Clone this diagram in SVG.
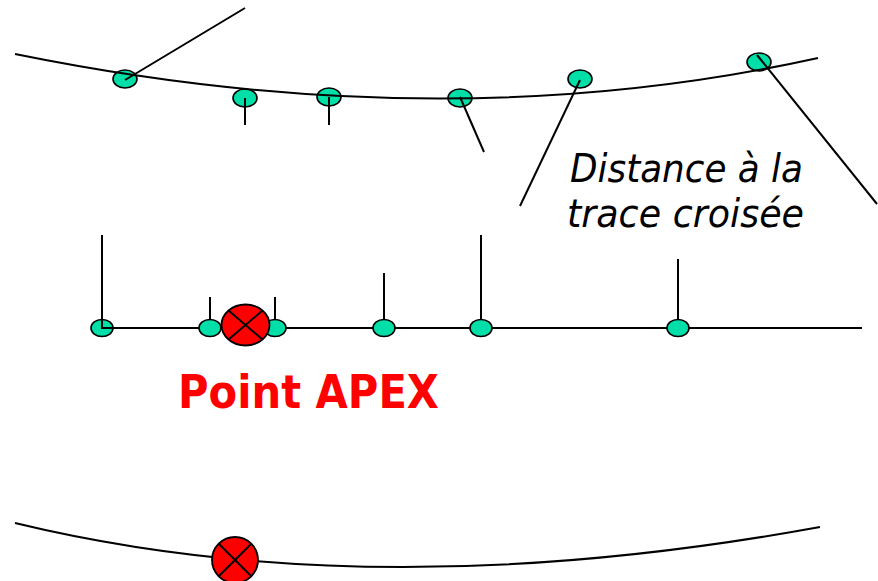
<svg xmlns="http://www.w3.org/2000/svg" width="878" height="581" viewBox="0 0 878 581">
<style>
.ln{fill:none;stroke:#000;stroke-width:2}
.pt{fill:#00dfa8;stroke:#000;stroke-width:1.6}
.apex{fill:#ff0000;stroke:#000;stroke-width:1.8}
.x{stroke:#000;stroke-width:2}
.lbl{font-family:"DejaVu Sans",Verdana,sans-serif;font-style:italic;font-size:39px;fill:#000}
.red{font-family:"DejaVu Sans",Verdana,sans-serif;font-weight:bold;font-size:46px;fill:#ff0000}
</style>
<rect width="878" height="581" fill="#fff"/>
<g id="top-points">
<ellipse class="pt" cx="125" cy="79" rx="12" ry="9"/>
<ellipse class="pt" cx="245" cy="98" rx="12" ry="9"/>
<ellipse class="pt" cx="329" cy="97" rx="12" ry="9"/>
<ellipse class="pt" cx="460" cy="98" rx="12" ry="9"/>
<ellipse class="pt" cx="580" cy="79" rx="12" ry="9"/>
<ellipse class="pt" cx="759" cy="62" rx="12" ry="9"/>
</g>
<g id="connectors">
<path class="ln" d="M15,54 Q443,141 818,58"/>
<path class="ln" d="M125,80 L245,8"/>
<path class="ln" d="M245,98 V125"/>
<path class="ln" d="M329,97 V125"/>
<path class="ln" d="M460,97 L484,152"/>
<path class="ln" d="M580,80 L520,206"/>
<path class="ln" d="M757,55 L877,204"/>
<path class="ln" d="M102,328 H862"/>
<path class="ln" d="M15,523 Q370,609 820,527"/>
</g>
<g id="mid-points">
<ellipse class="pt" cx="102" cy="328" rx="11" ry="8.5"/>
<ellipse class="pt" cx="210" cy="328" rx="11" ry="8.5"/>
<ellipse class="pt" cx="275" cy="328" rx="11" ry="8.5"/>
<ellipse class="pt" cx="384" cy="328" rx="11" ry="8.5"/>
<ellipse class="pt" cx="481" cy="328" rx="11" ry="8.5"/>
<ellipse class="pt" cx="678" cy="328" rx="11" ry="8.5"/>
</g>
<g id="mid-ticks">
<path class="ln" d="M102,235 V328 H113"/>
<path class="ln" d="M210,297 V320"/>
<path class="ln" d="M275,297 V320"/>
<path class="ln" d="M384,273 V320"/>
<path class="ln" d="M481,235 V320"/>
<path class="ln" d="M678,259 V320"/>
</g>
<g id="apex-mid">
<ellipse class="apex" cx="245.5" cy="325" rx="24" ry="20.5"/>
<path class="x" d="M228.5,310.5 L262.5,339.5 M262.5,310.5 L228.5,339.5"/>
</g>
<g id="apex-bottom">
<circle class="apex" cx="235" cy="560" r="23"/>
<path class="x" d="M218.7,543.7 L251.3,576.3 M251.3,543.7 L218.7,576.3"/>
</g>
<g id="label-distance">
<text class="lbl" x="570" y="182" textLength="233" lengthAdjust="spacingAndGlyphs">Distance à la</text>
<text class="lbl" x="567" y="227" textLength="237" lengthAdjust="spacingAndGlyphs">trace croisée</text>
</g>
<g id="label-apex">
<text class="red" x="178" y="408" textLength="261" lengthAdjust="spacingAndGlyphs">Point APEX</text>
</g>
</svg>
